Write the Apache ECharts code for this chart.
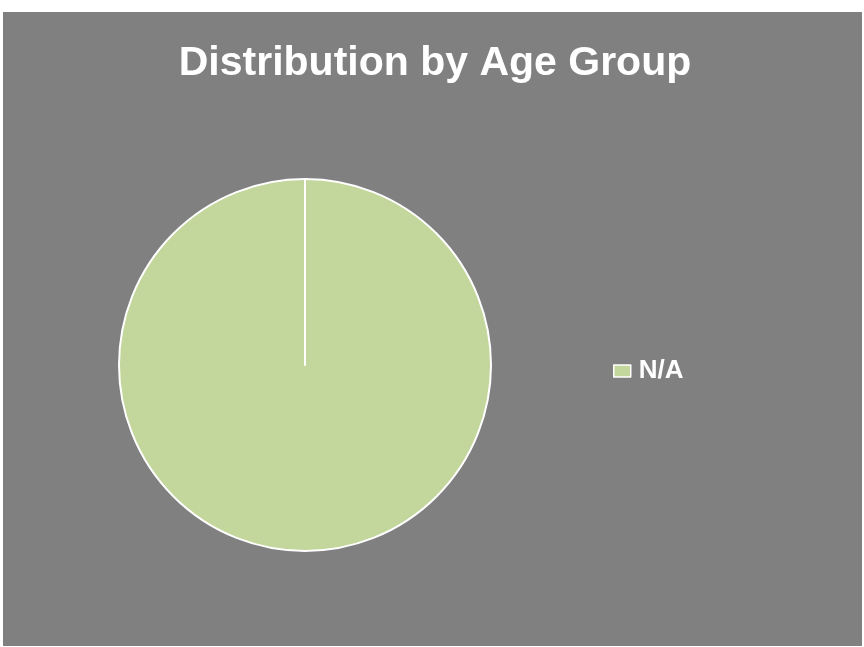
<!DOCTYPE html>
<html><head><meta charset="utf-8">
<script src="https://cdn.jsdelivr.net/npm/echarts@6/dist/echarts.min.js"></script>
<style>
html,body{margin:0;padding:0;background:#fff;width:864px;height:647px;overflow:hidden;}
#c{position:absolute;left:3px;top:12px;width:859px;height:634px;}
</style></head><body>
<div id="c"></div>
<script>
const titleText = 'Distribution by Age Group';
const categories = ['N/A'];
const values = [1];
const sliceColor = '#C3D69B';

const chart = echarts.init(document.getElementById('c'), null, {renderer:'canvas'});
const data = categories.map((n,i)=>({name:n, value:values[i]}));
// zero-width boundary slice so the slice's own start border (radial line) is drawn
data.push({name:'', value:0, itemStyle:{color:sliceColor}, label:{show:false}, labelLine:{show:false}});
chart.setOption({
  backgroundColor:'#808080',
  animation:false,
  title:{text:titleText, left:427, top:26, textAlign:'center',
    textStyle:{color:'#fff', fontSize:41, fontWeight:'bold', fontFamily:'Liberation Sans, Arial, sans-serif'}},
  legend:{data:categories, orient:'vertical', left:605, top:341, icon:'rect', itemWidth:17, itemHeight:12, itemGap:10,
    textStyle:{color:'#fff', fontSize:26, fontWeight:'bold', fontFamily:'Liberation Sans, Arial, sans-serif', padding:[0,0,0,3]},
    itemStyle:{borderColor:'#fff', borderWidth:1.5}},
  series:[{type:'pie', center:[302,353], radius:186, startAngle:90, clockwise:true,
    label:{show:false}, labelLine:{show:false}, silent:true,
    itemStyle:{color:sliceColor, borderColor:'#fff', borderWidth:2},
    data:data}]
});
</script></body></html>
